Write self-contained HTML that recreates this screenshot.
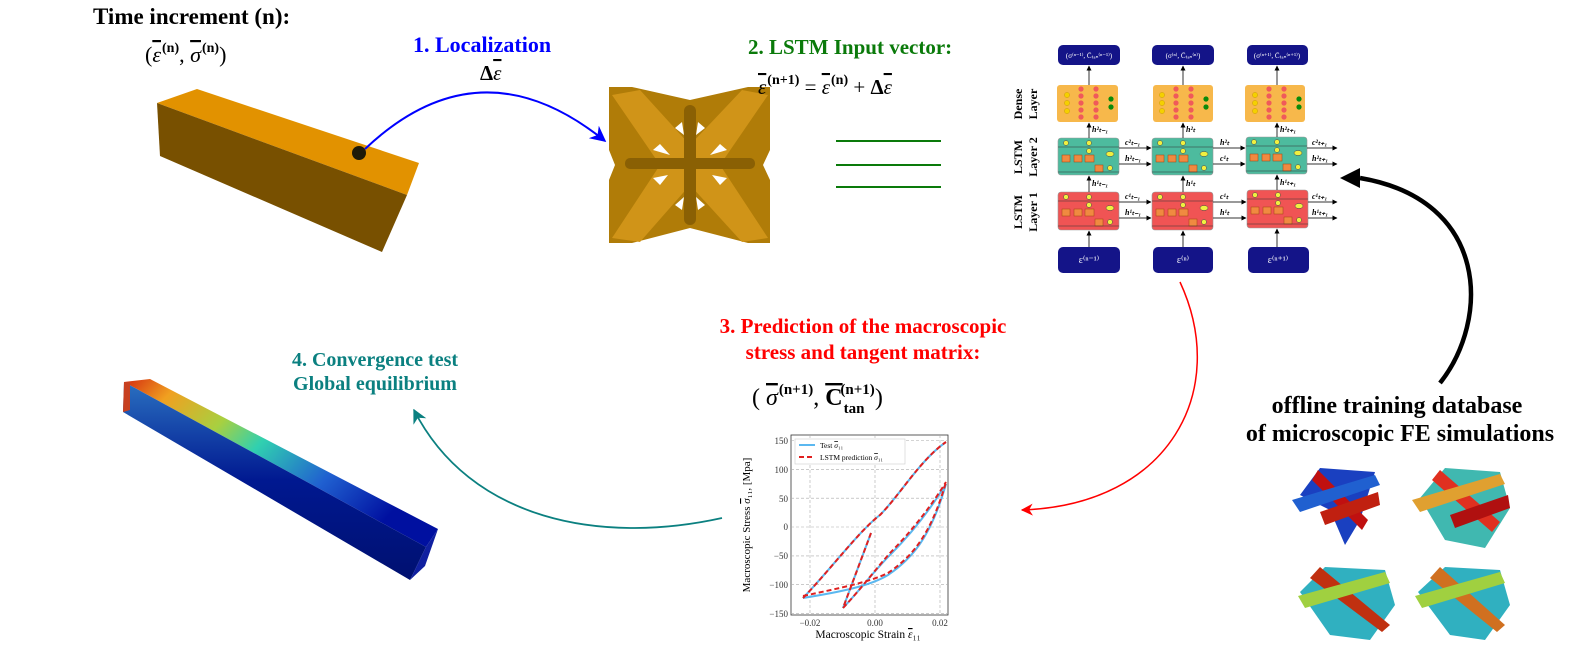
<!DOCTYPE html>
<html><head><meta charset="utf-8"><style>
html,body{margin:0;padding:0;background:#fff;}
svg{display:block;font-family:"Liberation Serif",serif;}
</style></head><body>
<svg width="1583" height="648" viewBox="0 0 1583 648" xmlns="http://www.w3.org/2000/svg">
<defs>
<marker id="ab" viewBox="0 0 10 10" refX="9" refY="5" markerWidth="8" markerHeight="8" orient="auto"><path d="M0,0L10,5L0,10L3,5z" fill="#0000ff"/></marker>
<marker id="ar" viewBox="0 0 10 10" refX="9" refY="5" markerWidth="8" markerHeight="8" orient="auto"><path d="M0,0L10,5L0,10L3,5z" fill="#ff0000"/></marker>
<marker id="at" viewBox="0 0 10 10" refX="9" refY="5" markerWidth="8" markerHeight="8" orient="auto"><path d="M0,0L10,5L0,10L3,5z" fill="#0b8080"/></marker>
<marker id="ak" viewBox="0 0 10 10" refX="9" refY="5" markerWidth="5" markerHeight="6" orient="auto"><path d="M0,0L10,5L0,10z" fill="#000"/></marker>
<linearGradient id="gb" x1="0" y1="0" x2="1" y2="0.5">
<stop offset="0" stop-color="#d42a10"/><stop offset="0.15" stop-color="#f0a020"/><stop offset="0.35" stop-color="#a8d040"/><stop offset="0.5" stop-color="#30d0b0"/><stop offset="0.75" stop-color="#2060d0"/><stop offset="1" stop-color="#0010a0"/></linearGradient>
<linearGradient id="gf" x1="0" y1="0" x2="0" y2="1">
<stop offset="0" stop-color="#2a70c0"/><stop offset="0.5" stop-color="#001890"/><stop offset="1" stop-color="#001070"/></linearGradient>
</defs>

<text x="93" y="24" font-size="23" font-weight="bold">Time increment (n):</text>
<text x="145" y="62" font-size="22">(<tspan font-style="italic" text-decoration="overline">ε</tspan><tspan font-size="14" dy="-10" dx="1" font-weight="bold">(n)</tspan><tspan dy="10">, </tspan><tspan font-style="italic" text-decoration="overline">σ</tspan><tspan font-size="14" dy="-10" dx="1" font-weight="bold">(n)</tspan><tspan dy="10">)</tspan></text>

<polygon points="157,103 197,89 419,163 407,195" fill="#e29200"/>
<polygon points="157,103 407,195 382,252 160,156" fill="#785000"/>
<circle cx="359" cy="153" r="7" fill="#1e1a08"/>
<path d="M365,149 Q480,40 605,141" fill="none" stroke="#0000ff" stroke-width="2" marker-end="url(#ab)"/>
<text x="413" y="52" font-size="22" font-weight="bold" fill="#0000ff">1. Localization</text>
<text x="480" y="80" font-size="21"><tspan font-weight="bold">Δ</tspan><tspan font-style="italic" text-decoration="overline">ε</tspan></text>

<g>
<path d="M609,87 L632,87 L690,100 L748,87 L770,87 L770,150 L763,165 L770,180 L770,243 L748,243 L690,228 L632,243 L609,243 L609,180 L615,165 L609,150Z" fill="#b07c08"/>
<path d="M612,95 L640,90 L690,145 L742,90 L768,95 L720,165 L768,238 L742,242 L690,185 L640,242 L612,238 L660,165Z" fill="#d09418"/>
<rect x="684" y="105" width="12" height="120" rx="6" fill="#8a6004"/>
<rect x="625" y="158" width="130" height="11" rx="5" fill="#8a6004"/>
<polygon points="675,128 682,122 684,135" fill="#fff"/>
<polygon points="705,128 698,122 696,135" fill="#fff"/>
<polygon points="653,150 660,144 670,155" fill="#fff"/>
<polygon points="727,150 720,144 710,155" fill="#fff"/>
<polygon points="653,178 660,185 668,175" fill="#fff"/>
<polygon points="727,178 720,185 712,175" fill="#fff"/>
<polygon points="675,205 682,210 684,197" fill="#fff"/>
<polygon points="705,205 698,210 696,197" fill="#fff"/>
</g>

<text x="748" y="54" font-size="21" font-weight="bold" fill="#0a7a0a">2. LSTM Input vector:</text>
<text x="758" y="94" font-size="21"><tspan font-style="italic" text-decoration="overline">ε</tspan><tspan font-size="14" dy="-10" dx="1" font-weight="bold">(n+1)</tspan><tspan dy="10"> = </tspan><tspan font-style="italic" text-decoration="overline">ε</tspan><tspan font-size="14" dy="-10" dx="1" font-weight="bold">(n)</tspan><tspan dy="10"> + </tspan><tspan font-weight="bold">Δ</tspan><tspan font-style="italic" text-decoration="overline">ε</tspan></text>
<line x1="836" y1="141" x2="941" y2="141" stroke="#0a7a0a" stroke-width="2"/>
<line x1="836" y1="165" x2="941" y2="165" stroke="#0a7a0a" stroke-width="2"/>
<line x1="836" y1="187" x2="941" y2="187" stroke="#0a7a0a" stroke-width="2"/>

<g font-size="12" font-weight="bold">
<text transform="translate(1022,104) rotate(-90)" text-anchor="middle">Dense</text>
<text transform="translate(1037,104) rotate(-90)" text-anchor="middle">Layer</text>
<text transform="translate(1022,157) rotate(-90)" text-anchor="middle">LSTM</text>
<text transform="translate(1037,157) rotate(-90)" text-anchor="middle">Layer 2</text>
<text transform="translate(1022,212) rotate(-90)" text-anchor="middle">LSTM</text>
<text transform="translate(1037,212) rotate(-90)" text-anchor="middle">Layer 1</text>
</g>
<g>
<rect x="1058" y="45" width="62" height="20" rx="5" fill="#141488"/>
<text x="1089" y="58" font-size="7" fill="#fff" text-anchor="middle">(σ⁽ⁿ⁻¹⁾, C̄ₜₐₙ⁽ⁿ⁻¹⁾)</text>
<rect x="1057" y="85" width="61" height="37" rx="3" fill="#f7b84b"/>
<rect x="1058" y="138" width="61" height="37" rx="3" fill="#4dbb9e" stroke="#999" stroke-width="0.6"/>
<rect x="1058" y="192" width="61" height="38" rx="3" fill="#f05454" stroke="#999" stroke-width="0.6"/>
<rect x="1058" y="247" width="62" height="26" rx="5" fill="#141488"/>
<text x="1089" y="263" font-size="10" fill="#fff" text-anchor="middle">ε⁽ⁿ⁻¹⁾</text>
<rect x="1152" y="45" width="62" height="20" rx="5" fill="#141488"/>
<text x="1183" y="58" font-size="7" fill="#fff" text-anchor="middle">(σ⁽ⁿ⁾, C̄ₜₐₙ⁽ⁿ⁾)</text>
<rect x="1153" y="85" width="60" height="37" rx="3" fill="#f7b84b"/>
<rect x="1152" y="138" width="61" height="37" rx="3" fill="#4dbb9e" stroke="#999" stroke-width="0.6"/>
<rect x="1152" y="192" width="61" height="38" rx="3" fill="#f05454" stroke="#999" stroke-width="0.6"/>
<rect x="1153" y="247" width="60" height="26" rx="5" fill="#141488"/>
<text x="1183" y="263" font-size="10" fill="#fff" text-anchor="middle">ε⁽ⁿ⁾</text>
<rect x="1247" y="45" width="61" height="20" rx="5" fill="#141488"/>
<text x="1277" y="58" font-size="7" fill="#fff" text-anchor="middle">(σ⁽ⁿ⁺¹⁾, C̄ₜₐₙ⁽ⁿ⁺¹⁾)</text>
<rect x="1245" y="85" width="60" height="37" rx="3" fill="#f7b84b"/>
<rect x="1246" y="137" width="61" height="37" rx="3" fill="#4dbb9e" stroke="#999" stroke-width="0.6"/>
<rect x="1247" y="190" width="61" height="38" rx="3" fill="#f05454" stroke="#999" stroke-width="0.6"/>
<rect x="1248" y="247" width="61" height="26" rx="5" fill="#141488"/>
<text x="1278" y="263" font-size="10" fill="#fff" text-anchor="middle">ε⁽ⁿ⁺¹⁾</text>
</g>
<g>
<g id="dn">
<circle cx="1067" cy="95" r="2.6" fill="#f5d000" stroke="#c09000" stroke-width="0.4"/><circle cx="1067" cy="103" r="2.6" fill="#f5d000" stroke="#c09000" stroke-width="0.4"/><circle cx="1067" cy="111" r="2.6" fill="#f5d000" stroke="#c09000" stroke-width="0.4"/>
<circle cx="1081" cy="89" r="2.6" fill="#f05a5a"/><circle cx="1081" cy="96" r="2.6" fill="#f05a5a"/><circle cx="1081" cy="103" r="2.6" fill="#f05a5a"/><circle cx="1081" cy="110" r="2.6" fill="#f05a5a"/><circle cx="1081" cy="117" r="2.6" fill="#f05a5a"/>
<circle cx="1096" cy="89" r="2.6" fill="#f05a5a"/><circle cx="1096" cy="96" r="2.6" fill="#f05a5a"/><circle cx="1096" cy="103" r="2.6" fill="#f05a5a"/><circle cx="1096" cy="110" r="2.6" fill="#f05a5a"/><circle cx="1096" cy="117" r="2.6" fill="#f05a5a"/>
<circle cx="1111" cy="99" r="2.6" fill="#0a8a0a"/><circle cx="1111" cy="107" r="2.6" fill="#0a8a0a"/>
</g>
<use href="#dn" x="95"/><use href="#dn" x="188"/>
</g>
<g id="gt">
<rect x="1062" y="155" width="8" height="7" fill="#f08a40" stroke="#a04010" stroke-width="0.5"/>
<rect x="1074" y="155" width="8" height="7" fill="#f08a40" stroke="#a04010" stroke-width="0.5"/>
<rect x="1085" y="155" width="9" height="7" fill="#f08a40" stroke="#a04010" stroke-width="0.5"/>
<rect x="1095" y="165" width="8" height="7" fill="#f08a40" stroke="#a04010" stroke-width="0.5"/>
<circle cx="1066" cy="143" r="2.5" fill="#f0f040" stroke="#444" stroke-width="0.5"/>
<circle cx="1089" cy="143" r="2.5" fill="#f0f040" stroke="#444" stroke-width="0.5"/>
<circle cx="1089" cy="151" r="2.5" fill="#f0f040" stroke="#444" stroke-width="0.5"/>
<ellipse cx="1110" cy="154" rx="4" ry="2.5" fill="#f0f040" stroke="#444" stroke-width="0.5"/>
<circle cx="1110" cy="168" r="2.5" fill="#f0f040" stroke="#444" stroke-width="0.5"/>
<line x1="1058" y1="147" x2="1119" y2="147" stroke="#333" stroke-width="0.6"/>
<line x1="1058" y1="172" x2="1119" y2="172" stroke="#333" stroke-width="0.6"/>
</g>
<use href="#gt" x="94"/><use href="#gt" x="188" y="-1"/>
<use href="#gt" y="54"/><use href="#gt" x="94" y="54"/><use href="#gt" x="189" y="52"/>
<g stroke="#333" stroke-width="1" marker-end="url(#ak)">
<line x1="1089" y1="85" x2="1089" y2="66"/><line x1="1089" y1="138" x2="1089" y2="123"/><line x1="1089" y1="192" x2="1089" y2="176"/><line x1="1089" y1="247" x2="1089" y2="231"/>
<line x1="1183" y1="85" x2="1183" y2="66"/><line x1="1183" y1="138" x2="1183" y2="123"/><line x1="1183" y1="192" x2="1183" y2="176"/><line x1="1183" y1="247" x2="1183" y2="231"/>
<line x1="1277" y1="85" x2="1277" y2="66"/><line x1="1277" y1="137" x2="1277" y2="123"/><line x1="1277" y1="190" x2="1277" y2="175"/><line x1="1277" y1="247" x2="1277" y2="229"/>
<line x1="1119" y1="148" x2="1151" y2="148"/><line x1="1119" y1="164" x2="1151" y2="164"/>
<line x1="1119" y1="202" x2="1151" y2="202"/><line x1="1119" y1="218" x2="1151" y2="218"/>
<line x1="1213" y1="148" x2="1245" y2="148"/><line x1="1213" y1="164" x2="1245" y2="164"/>
<line x1="1213" y1="202" x2="1246" y2="202"/><line x1="1213" y1="218" x2="1246" y2="218"/>
<line x1="1307" y1="148" x2="1337" y2="148"/><line x1="1307" y1="164" x2="1337" y2="164"/>
<line x1="1308" y1="202" x2="1337" y2="202"/><line x1="1308" y1="218" x2="1337" y2="218"/>
</g>
<g font-size="8" font-style="italic" font-weight="bold">
<text x="1092" y="132">h²ₜ₋₁</text><text x="1186" y="132">h²ₜ</text><text x="1280" y="132">h²ₜ₊₁</text>
<text x="1092" y="186">h¹ₜ₋₁</text><text x="1186" y="186">h¹ₜ</text><text x="1280" y="185">h¹ₜ₊₁</text>
<text x="1125" y="145">c²ₜ₋₁</text><text x="1125" y="161">h²ₜ₋₁</text><text x="1220" y="145">h²ₜ</text><text x="1220" y="161">c¹ₜ</text><text x="1312" y="145">c²ₜ₊₁</text><text x="1312" y="161">h²ₜ₊₁</text>
<text x="1125" y="199">c¹ₜ₋₁</text><text x="1125" y="215">h¹ₜ₋₁</text><text x="1220" y="199">c¹ₜ</text><text x="1220" y="215">h¹ₜ</text><text x="1312" y="199">c¹ₜ₊₁</text><text x="1312" y="215">h¹ₜ₊₁</text>
</g>

<path d="M1440,383 C1490,320 1490,200 1360,178" fill="none" stroke="#000" stroke-width="4.5"/>
<polygon points="1340,178 1360,168 1360,188" fill="#000"/>

<text x="1397" y="413" font-size="24" font-weight="bold" text-anchor="middle">offline training database</text>
<text x="1400" y="441" font-size="24" font-weight="bold" text-anchor="middle">of microscopic FE simulations</text>

<g>
<polygon points="1300,495 1320,468 1375,472 1360,520 1345,545 1330,510" fill="#1a40c0"/>
<polygon points="1318,470 1368,520 1362,530 1312,480" fill="#c01010"/>
<polygon points="1292,500 1375,475 1380,485 1300,512" fill="#2060d0"/>
<polygon points="1320,512 1378,492 1380,505 1325,525" fill="#c02010"/>
<polygon points="1420,498 1445,468 1500,472 1510,508 1485,548 1445,540" fill="#40b8b0"/>
<polygon points="1440,470 1500,522 1492,532 1432,480" fill="#e03020"/>
<polygon points="1412,500 1500,474 1505,484 1420,512" fill="#e0a030"/>
<polygon points="1450,515 1508,495 1510,508 1455,528" fill="#b01010"/>
<polygon points="1300,592 1325,567 1385,570 1395,605 1370,640 1330,635" fill="#30b0c0"/>
<polygon points="1320,567 1390,625 1382,632 1310,578" fill="#c03010"/>
<polygon points="1298,596 1385,572 1390,583 1305,608" fill="#a0d040"/>
<polygon points="1418,592 1445,567 1500,570 1510,605 1485,640 1450,635" fill="#30b0c0"/>
<polygon points="1440,567 1505,625 1497,632 1430,578" fill="#d07020"/>
<polygon points="1415,596 1500,572 1505,583 1422,608" fill="#a0d040"/>
</g>

<path d="M1180,282 C1230,390 1170,505 1022,510" fill="none" stroke="#ff0000" stroke-width="1.5" marker-end="url(#ar)"/>
<text x="863" y="333" font-size="21" font-weight="bold" fill="#ff0000" text-anchor="middle">3. Prediction of the macroscopic</text>
<text x="863" y="359" font-size="21" font-weight="bold" fill="#ff0000" text-anchor="middle">stress and tangent matrix:</text>
<text x="752" y="405" font-size="24">( <tspan font-style="italic" text-decoration="overline">σ</tspan><tspan font-size="15" dy="-11" dx="1" font-weight="bold">(n+1)</tspan><tspan dy="11">, </tspan><tspan font-weight="bold" text-decoration="overline">C</tspan><tspan font-size="15" dy="8" dx="1" font-weight="bold">tan</tspan><tspan font-size="15" dx="-24" dy="-19" font-weight="bold">(n+1)</tspan><tspan dy="11">)</tspan></text>

<polygon points="124,382 150,379 438,529 426,547" fill="url(#gb)"/>
<polygon points="124,382 426,547 410,580 123,412" fill="url(#gf)"/>
<polygon points="124,382 130,382 130,410 123,412" fill="#c84020"/>
<polygon points="426,547 438,529 425,566 410,580" fill="#1020a0"/>

<path d="M722,518 C600,545 470,520 414,410" fill="none" stroke="#0b8080" stroke-width="1.8" marker-end="url(#at)"/>
<text x="375" y="366" font-size="20" font-weight="bold" fill="#0b8080" text-anchor="middle">4. Convergence test</text>
<text x="375" y="390" font-size="20" font-weight="bold" fill="#0b8080" text-anchor="middle">Global equilibrium</text>

<g font-size="9">
<rect x="791" y="435" width="157" height="180" fill="#fff" stroke="#333" stroke-width="0.8"/>
<g stroke="#aaa" stroke-width="0.6" stroke-dasharray="3,2">
<line x1="791" y1="440.5" x2="948" y2="440.5"/><line x1="791" y1="469.3" x2="948" y2="469.3"/><line x1="791" y1="498.2" x2="948" y2="498.2"/><line x1="791" y1="527" x2="948" y2="527"/><line x1="791" y1="555.9" x2="948" y2="555.9"/><line x1="791" y1="584.7" x2="948" y2="584.7"/><line x1="791" y1="613.6" x2="948" y2="613.6"/>
<line x1="810" y1="435" x2="810" y2="615"/><line x1="875" y1="435" x2="875" y2="615"/><line x1="940" y1="435" x2="940" y2="615"/>
</g>
<g text-anchor="end" fill="#333">
<text x="788" y="444">150</text><text x="788" y="473">100</text><text x="788" y="502">50</text><text x="788" y="530">0</text><text x="788" y="559">−50</text><text x="788" y="588">−100</text><text x="788" y="617">−150</text>
</g>
<g text-anchor="middle" fill="#333"><text x="810" y="626">−0.02</text><text x="875" y="626">0.00</text><text x="940" y="626">0.02</text></g>
<text x="868" y="638" font-size="11.5" text-anchor="middle">Macroscopic Strain <tspan font-style="italic" text-decoration="overline">ε</tspan>₁₁</text>
<text transform="translate(750,525) rotate(-90)" font-size="11" text-anchor="middle">Macroscopic Stress <tspan font-style="italic" text-decoration="overline">σ</tspan>₁₁, [Mpa]</text>
<g fill="none" stroke-width="2">
<g stroke="#5bb8f0">
<path d="M871,533 L843,608"/>
<path d="M803,598 C830,570 860,530 880,515 C900,495 920,460 946,442"/>
<path d="M803,598 C840,592 870,586 888,575 C910,560 930,540 946,484"/>
<path d="M843,608 C860,590 875,570 890,555 C910,535 930,510 946,484"/>
</g>
<g stroke="#e02020" stroke-dasharray="5,3">
<path d="M871,533 L843,608"/>
<path d="M803,598 C830,570 860,530 880,515 C900,495 920,460 946,442"/>
<path d="M803,596 C840,588 870,582 888,573 C910,558 930,538 946,482"/>
<path d="M843,608 C860,590 875,570 890,553 C910,533 930,508 946,482"/>
</g>
</g>
<rect x="795" y="439" width="110" height="25" fill="#fff" stroke="#ccc" stroke-width="0.6"/>
<line x1="799" y1="445" x2="815" y2="445" stroke="#5bb8f0" stroke-width="2"/>
<line x1="799" y1="457" x2="815" y2="457" stroke="#e02020" stroke-width="2" stroke-dasharray="5,3"/>
<text x="820" y="448" font-size="7.5">Test <tspan font-style="italic" text-decoration="overline">σ</tspan>₁₁</text>
<text x="820" y="460" font-size="7.5">LSTM prediction <tspan font-style="italic" text-decoration="overline">σ</tspan>₁₁</text>
</g>
</svg>
</body></html>
